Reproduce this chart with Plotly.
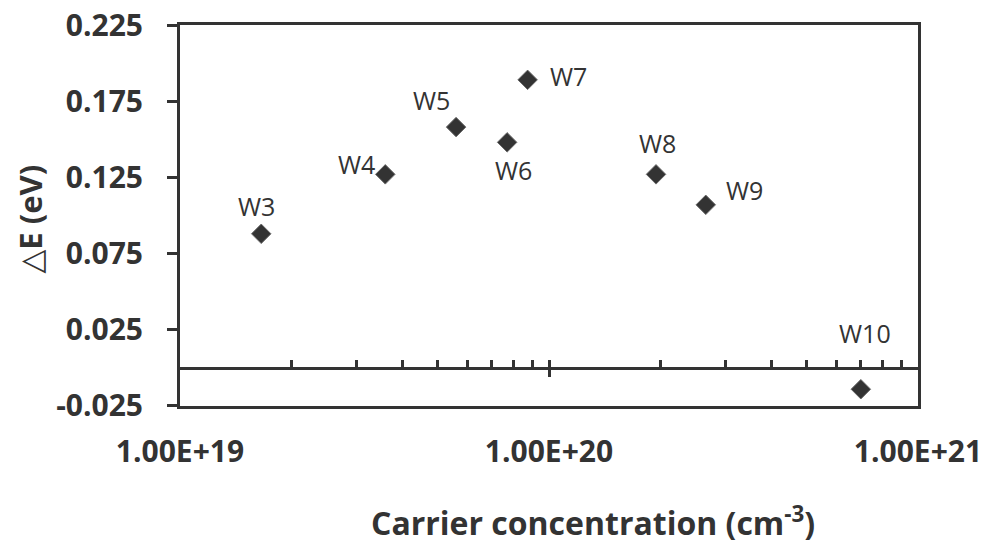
import math
import plotly.graph_objects as go

# ---- data ----
samples = ["W3", "W4", "W5", "W6", "W7", "W8", "W9", "W10"]
carrier_conc = [1.66e19, 3.6e19, 5.6e19, 7.7e19, 8.75e19, 1.95e20, 2.66e20, 7.0e20]
delta_e = [0.088, 0.127, 0.158, 0.148, 0.189, 0.127, 0.107, -0.014]

# label offsets in pixels (styling)
label_dx = [-5, -29, -25, 6, 41, 1, 39, 4]
label_dy = [28, 10, 27, -28, 4, 31, 15, 56]

x_major = [1e19, 1e20, 1e21]
x_major_text = ["1.00E+19", "1.00E+20", "1.00E+21"]
y_range = [-0.02501, 0.22501]
y_ticks = [-0.025, 0.025, 0.075, 0.125, 0.175, 0.225]
y_tick_text = ["-0.025", "0.025", "0.075", "0.125", "0.175", "0.225"]

INK = "#333333"
FONT = "Open Sans"

# minor tick positions (2..9 x decade) for the axis drawn on the zero line
decades = [19, 20]
zero_axis_ticks = [float(k) * 10.0 ** d for d in decades for k in range(1, 10)] + [1e21]

zero_pos = (0 - y_range[0]) / (y_range[1] - y_range[0])

fig = go.Figure()
fig.add_trace(go.Scatter(
    x=carrier_conc, y=delta_e, mode="markers",
    marker=dict(symbol="diamond", size=15, color=INK,
                line=dict(color="#6a6a6a", width=1)),
    showlegend=False, hoverinfo="skip",
))

for s, xv, yv, dx, dy in zip(samples, carrier_conc, delta_e, label_dx, label_dy):
    fig.add_annotation(x=math.log10(xv), y=yv, xref="x", yref="y", text=s,
                       showarrow=False, xshift=dx, yshift=dy,
                       font=dict(family=FONT, size=25, color=INK))

fig.add_annotation(
    x=-0.203, y=0.49, xref="paper", yref="paper", textangle=-90,
    text="<span style='font-weight:normal; font-family:DejaVu Sans'>△</span><b>E (eV)</b>",
    showarrow=False, xanchor="center", yanchor="middle",
    font=dict(family=FONT, size=31, color=INK))

fig.add_annotation(
    x=0.56, y=-0.302, xref="paper", yref="paper",
    text="<b>Carrier concentration (cm<sup>-3</sup>)</b>",
    showarrow=False, xanchor="center", yanchor="middle",
    font=dict(family=FONT, size=32, color=INK))

fig.update_layout(
    width=1000, height=540,
    margin=dict(l=180, r=82, t=25, b=134, autoexpand=False),
    paper_bgcolor="white", plot_bgcolor="white",
    font=dict(family=FONT, color=INK),
    xaxis=dict(
        type="log", range=[19, 21], showgrid=False, zeroline=False,
        showline=True, linecolor=INK, linewidth=3, mirror=True,
        tickvals=x_major, ticktext=x_major_text, ticks="",
        ticklabelstandoff=17, automargin=False,
        tickfont=dict(family=FONT, size=30, color=INK, weight="bold"),
    ),
    xaxis2=dict(
        type="log", range=[19, 21], overlaying="x", anchor="free",
        position=zero_pos, showgrid=False, zeroline=False,
        showline=True, linecolor=INK, linewidth=3, automargin=False,
        tickvals=zero_axis_ticks, ticks="inside", ticklen=7, tickwidth=3,
        tickcolor=INK, showticklabels=False,
    ),
    xaxis3=dict(
        type="log", range=[19, 21], overlaying="x", anchor="free",
        position=zero_pos, showgrid=False, zeroline=False, showline=False,
        tickvals=[1e20], ticks="outside", ticklen=8, tickwidth=3,
        tickcolor=INK, showticklabels=False, automargin=False,
    ),
    yaxis=dict(
        range=y_range, showgrid=False, zeroline=False,
        showline=True, linecolor=INK, linewidth=3, mirror=True,
        tickvals=y_ticks, ticktext=y_tick_text,
        ticks="outside", ticklen=10, tickwidth=3, tickcolor=INK,
        ticklabelstandoff=18, automargin=False,
        tickfont=dict(family=FONT, size=30, color=INK, weight="bold"),
    ),
)

# dummy traces so the overlay axes render
fig.add_trace(go.Scatter(x=[None], y=[None], xaxis="x2", showlegend=False))
fig.add_trace(go.Scatter(x=[None], y=[None], xaxis="x3", showlegend=False))

fig.write_html("out.html", config={"displayModeBar": False},
               post_script="document.body.style.margin='0';")
